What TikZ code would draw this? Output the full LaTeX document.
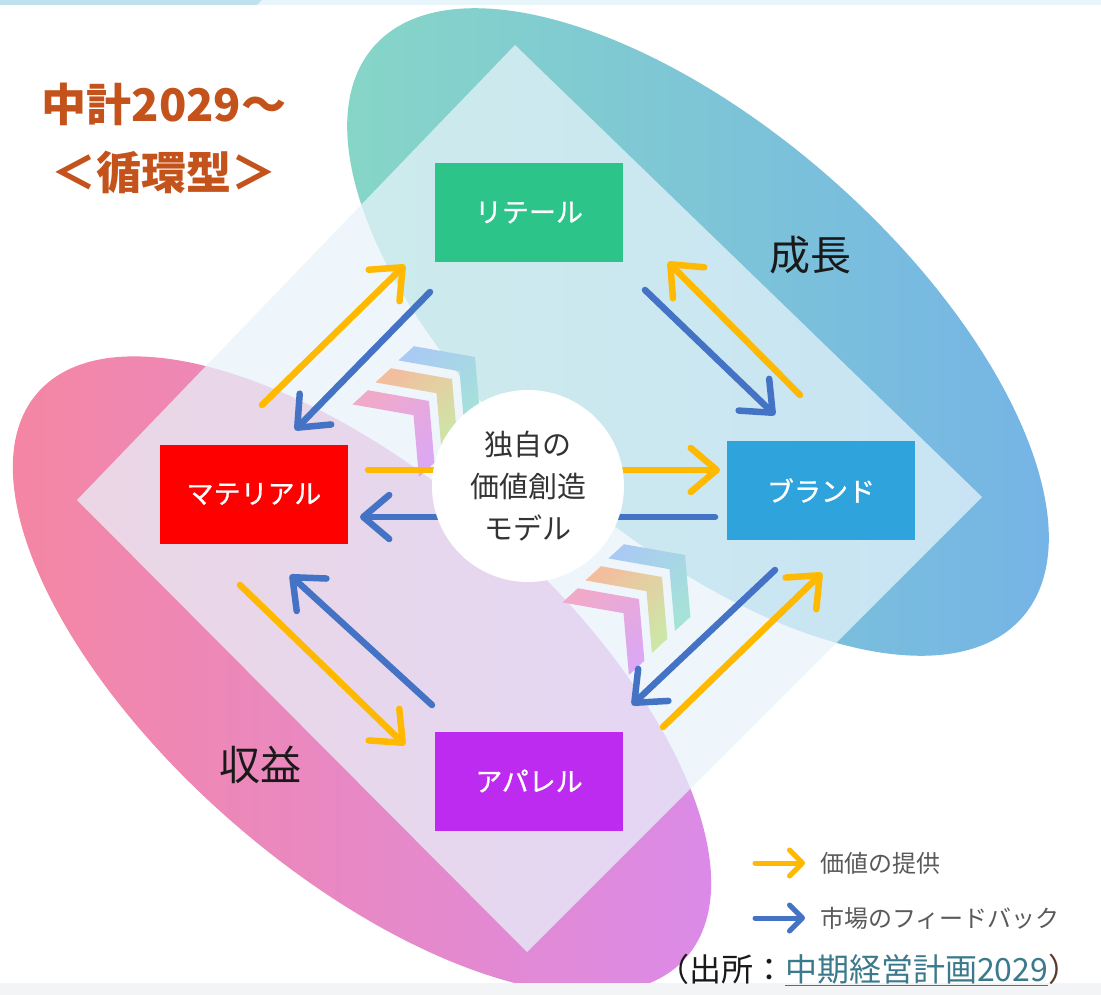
\documentclass[tikz,border=0pt]{standalone}
\usepackage{fontspec}
\setmainfont{Noto Sans CJK JP}
\newfontfamily\boxfont{Noto Sans CJK JP}[FakeBold=0.8]
\usetikzlibrary{arrows.meta,calc}
\definecolor{valcol}{HTML}{FFB901}
\definecolor{fbcol}{HTML}{4472C4}
\definecolor{stripl}{HTML}{E8F5FB}
\definecolor{stripd}{HTML}{BFE0EE}
\definecolor{botstrip}{HTML}{F3F4F6}
\definecolor{ellAone}{HTML}{87D8C5}
\definecolor{ellAtwo}{HTML}{74B2E8}
\definecolor{ellBone}{HTML}{F6869F}
\definecolor{ellBtwo}{HTML}{D98BEC}
\definecolor{diam}{HTML}{E8F4FB}
\definecolor{retailc}{HTML}{2CC489}
\definecolor{materialc}{HTML}{FF0000}
\definecolor{brandc}{HTML}{2FA4DC}
\definecolor{apparelc}{HTML}{BD2BF0}
\definecolor{titlec}{HTML}{C4531B}
\definecolor{srcteal}{HTML}{3B7A8C}
\definecolor{srcparen}{HTML}{5B3A2E}
\definecolor{legtext}{HTML}{5A5A5A}
\definecolor{coretext}{HTML}{333333}
\definecolor{cblue}{HTML}{A9CBF3}
\definecolor{cteal}{HTML}{A5E2D8}
\definecolor{cpeach}{HTML}{F3BE9E}
\definecolor{cgreen}{HTML}{CDE6A8}
\definecolor{cpink}{HTML}{F0A9C9}
\definecolor{clav}{HTML}{DCA8F3}
\newcommand{\mychev}[3]{%
  \shade[top color=#2, bottom color=#3, shading angle=45]
    (#1) -- ($(#1)+(190:62)$) -- ($(#1)+(190:62)+(137.5:21)$) -- ($(#1)+(137.5:21)$)
    -- ($(#1)+(85:62)+(137.5:21)$) -- ($(#1)+(85:62)$) -- cycle;}
\tikzset{
  boxnode/.style={minimum width=188pt, minimum height=99pt, inner sep=0pt, text=white,
    font=\boxfont\fontsize{27}{30}\selectfont},
  valarrow/.style={draw=valcol, line width=6.5pt, line cap=round,
    -{Straight Barb[length=26pt,width=44pt,round]}},
  fbarrow/.style={draw=fbcol, line width=6.5pt, line cap=round,
    -{Straight Barb[length=26pt,width=44pt,round]}},
  legval/.style={draw=valcol, line width=5pt, line cap=round,
    -{Straight Barb[length=13pt,width=26pt,round]}},
  legfb/.style={draw=fbcol, line width=5pt, line cap=round,
    -{Straight Barb[length=13pt,width=26pt,round]}},
  biglabel/.style={inner sep=0pt, text=black!90, font=\fontsize{41}{45}\selectfont},
  legendtext/.style={anchor=west, inner sep=0pt, text=legtext, font=\fontsize{24}{28}\selectfont},
  titletext/.style={inner sep=0pt, text=titlec, font=\fontsize{45}{50}\selectfont\bfseries}
}
\begin{document}
\begin{tikzpicture}[x=1pt,y=-1pt]
\useasboundingbox (0,0) rectangle (1101,995);
\fill[white] (0,0) rectangle (1101,995);
% top strip
\fill[stripl] (0,0) rectangle (1101,5);
\fill[stripd] (0,0) -- (262,0) -- (257,5) -- (0,5) -- cycle;
% ellipses
\begin{scope}[shift={(698,332)}, rotate=-41.4]
  \shade[left color=ellAone, right color=ellAtwo] (0,0) ellipse [x radius=432, y radius=203];
\end{scope}
\begin{scope}[shift={(362,675)}, rotate=-41]
  \shade[left color=ellBone, right color=ellBtwo] (0,0) ellipse [x radius=430, y radius=196];
\end{scope}
% bottom strip
\fill[botstrip] (0,983) rectangle (1101,995);
% diamond
\fill[diam, opacity=0.73] (77,500) -- (515,45) -- (982,497) -- (527,952) -- cycle;
% chevrons
\coordinate (c1a) at (475,357);
\coordinate (c1b) at (452,379);
\coordinate (c1c) at (429,401);
\coordinate (c2a) at (685,555);
\coordinate (c2b) at (662,577);
\coordinate (c2c) at (639,599);
\mychev{c1a}{cblue}{cteal}
\mychev{c1b}{cpeach}{cgreen}
\mychev{c1c}{cpink}{clav}
\mychev{c2a}{cblue}{cteal}
\mychev{c2b}{cpeach}{cgreen}
\mychev{c2c}{cpink}{clav}
% arrow end points
\coordinate (a1s) at (262,405); \coordinate (a1e) at (405,265);
\coordinate (a2s) at (430,292); \coordinate (a2e) at (295,430);
\coordinate (a3s) at (800,395); \coordinate (a3e) at (668,262);
\coordinate (a4s) at (645,290); \coordinate (a4e) at (775,415);
\coordinate (a5s) at (368,470); \coordinate (a5e) at (720,470);
\coordinate (a6s) at (715,517); \coordinate (a6e) at (360,517);
\coordinate (a7s) at (240,585); \coordinate (a7e) at (405,745);
\coordinate (a8s) at (432,705); \coordinate (a8e) at (290,575);
\coordinate (a9s) at (663,727); \coordinate (a9e) at (822,573);
\coordinate (a10s) at (775,570); \coordinate (a10e) at (632,705);
\draw[valarrow] (a1s) -- (a1e);
\draw[fbarrow] (a2s) -- (a2e);
\draw[valarrow] (a3s) -- (a3e);
\draw[fbarrow] (a4s) -- (a4e);
\draw[valarrow] (a5s) -- (a5e);
\draw[fbarrow] (a6s) -- (a6e);
\draw[valarrow] (a7s) -- (a7e);
\draw[fbarrow] (a8s) -- (a8e);
\draw[valarrow] (a9s) -- (a9e);
\draw[fbarrow] (a10s) -- (a10e);
% center circle
\node[circle, fill=white, minimum size=192pt, inner sep=0pt, text=coretext, align=center,
  font=\fontsize{29}{42}\selectfont] (core) at (528,486) {独自の\\価値創造\\モデル};
% boxes
\node[boxnode, fill=retailc] (retail) at (529,212.5) {リテール};
\node[boxnode, fill=materialc] (material) at (254,494) {マテリアル};
\node[boxnode, fill=brandc] (brand) at (821,490.5) {ブランド};
\node[boxnode, fill=apparelc] (apparel) at (529,781) {アパレル};
% labels
\node[biglabel] (growth) at (810,255) {成長};
\node[biglabel] (profit) at (260,765) {収益};
% title
\node[titletext] (title1) at (164,104) {中計2029〜};
\node[titletext] (title2) at (164,172) {＜循環型＞};
% legend
\coordinate (l1s) at (755,863); \coordinate (l1e) at (805,863);
\coordinate (l2s) at (755,918); \coordinate (l2e) at (805,918);
\draw[legval] (l1s) -- (l1e);
\draw[legfb] (l2s) -- (l2e);
\node[legendtext] (leg1) at (820,863) {価値の提供};
\node[legendtext] (leg2) at (820,918) {市場のフィードバック};
% source
\node[anchor=west, inner sep=0pt, text=black!90, font=\fontsize{32}{35}\selectfont] (src) at (657,970)
  {（出所：\textcolor{srcteal}{\underline{中期経営計画2029}}\textcolor{srcparen}{）}};
\end{tikzpicture}
\end{document}
